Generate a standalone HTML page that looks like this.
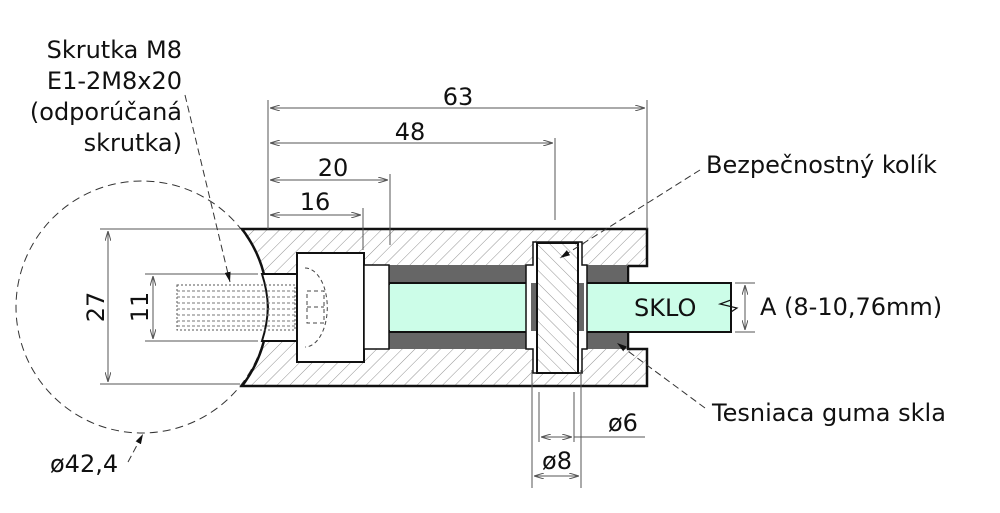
<!DOCTYPE html>
<html><head><meta charset="utf-8"><style>
body{margin:0;background:#fff}
svg{display:block}
text{font-family:"DejaVu Sans","Liberation Sans",sans-serif;font-size:24px;fill:#111}
</style></head><body>
<svg width="1000" height="513" viewBox="0 0 1000 513">
<defs>
<pattern id="h" width="9" height="9" patternUnits="userSpaceOnUse" patternTransform="rotate(45)">
<rect width="9" height="9" fill="#fff"/><line x1="0" y1="0" x2="0" y2="9" stroke="#777" stroke-width="0.8"/></pattern>
<pattern id="h2" width="9" height="9" patternUnits="userSpaceOnUse" patternTransform="rotate(-45)">
<rect width="9" height="9" fill="#fff"/><line x1="0" y1="0" x2="0" y2="9" stroke="#777" stroke-width="0.8"/></pattern>
<marker id="a" markerWidth="10" markerHeight="6" refX="10" refY="3" orient="auto"><path d="M0,0 L10,3 L0,6" fill="none" stroke="#555" stroke-width="1"/></marker>
<marker id="b" markerWidth="10" markerHeight="6" refX="10" refY="3" orient="auto"><path d="M0,0 L10,3 L0,6z" fill="#111"/></marker>
</defs>
<circle cx="142" cy="307" r="126" fill="none" stroke="#333" stroke-width="1" stroke-dasharray="8,5"/>
<path d="M242,229 L647,229 L647,266 L628,266 L628,349 L647,349 L647,386 L242,386 A126,126 0 0 0 268,307 A126,126 0 0 0 242,229 Z" fill="url(#h)" stroke="#111" stroke-width="2.5"/>
<rect x="389" y="265" width="239" height="84" fill="#666"/>
<rect x="389" y="283" width="342" height="49" fill="#ccfde8" stroke="#111" stroke-width="2"/>
<rect x="389" y="285" width="240" height="45" fill="#ccfde8"/>
<path d="M731,283 L731,300 L720,304 L737,308 L731,312 L731,332" fill="none" stroke="#111" stroke-width="1.2"/>
<path d="M628,266 L628,283 M628,332 L628,349" stroke="#111" stroke-width="2"/>
<path d="M262,274 L297,274 L297,341 L262,341 A126,126 0 0 0 268,307 A126,126 0 0 0 262,274Z" fill="#fff" stroke="#111" stroke-width="2"/>
<rect x="297" y="253" width="67" height="109" fill="#fff" stroke="#111" stroke-width="2"/>
<rect x="364" y="265" width="25" height="84" fill="#fff" stroke="#111" stroke-width="1.5"/>
<path d="M305,268 A22,39 0 0 1 305,347" fill="none" stroke="#444" stroke-dasharray="4,3"/>
<rect x="307" y="291" width="17" height="32" fill="none" stroke="#444" stroke-dasharray="4,3"/>
<line x1="307" y1="307" x2="324" y2="307" stroke="#444" stroke-dasharray="4,3"/>
<rect x="177" y="285" width="118" height="45" fill="none" stroke="#555" stroke-width="1" stroke-dasharray="2,2"/>
<g stroke="#777" stroke-width="1" stroke-dasharray="3,2">
<line x1="177" y1="291" x2="295" y2="291"/><line x1="177" y1="297" x2="295" y2="297"/><line x1="177" y1="303" x2="295" y2="303"/><line x1="177" y1="309" x2="295" y2="309"/><line x1="177" y1="315" x2="295" y2="315"/><line x1="177" y1="321" x2="295" y2="321"/><line x1="177" y1="326" x2="295" y2="326"/></g>
<path d="M526,265 L533,265 L533,242 L582,242 L582,265 L587,265 L587,349 L582,349 L582,373 L533,373 L533,349 L526,349Z" fill="#fff" stroke="#111" stroke-width="1.5"/>
<rect x="531" y="283" width="6" height="48" fill="#666"/><rect x="578" y="283" width="6" height="48" fill="#666"/>
<rect x="537" y="243" width="41" height="130" fill="url(#h2)" stroke="#111" stroke-width="2"/>
<g stroke="#555" stroke-width="1" fill="none">
<line x1="268" y1="100" x2="268" y2="229"/><line x1="647" y1="100" x2="647" y2="229"/>
<line x1="555" y1="138" x2="555" y2="220"/><line x1="390" y1="174" x2="390" y2="245"/><line x1="363" y1="208" x2="363" y2="250"/>
<line x1="270" y1="108" x2="645" y2="108" marker-end="url(#a)"/><line x1="645" y1="108" x2="270" y2="108" marker-end="url(#a)"/>
<line x1="270" y1="143" x2="553" y2="143" marker-end="url(#a)"/><line x1="553" y1="143" x2="270" y2="143" marker-end="url(#a)"/>
<line x1="270" y1="180" x2="388" y2="180" marker-end="url(#a)"/><line x1="388" y1="180" x2="270" y2="180" marker-end="url(#a)"/>
<line x1="270" y1="215" x2="361" y2="215" marker-end="url(#a)"/><line x1="361" y1="215" x2="270" y2="215" marker-end="url(#a)"/>
<line x1="100" y1="229" x2="240" y2="229"/><line x1="100" y1="384" x2="240" y2="384"/>
<line x1="145" y1="274" x2="258" y2="274"/><line x1="145" y1="341" x2="258" y2="341"/>
<line x1="108" y1="231" x2="108" y2="382" marker-end="url(#a)"/><line x1="108" y1="382" x2="108" y2="231" marker-end="url(#a)"/>
<line x1="153" y1="276" x2="153" y2="339" marker-end="url(#a)"/><line x1="153" y1="339" x2="153" y2="276" marker-end="url(#a)"/>
<line x1="539" y1="392" x2="539" y2="442"/><line x1="574" y1="392" x2="574" y2="442"/>
<line x1="532" y1="370" x2="532" y2="488"/><line x1="581" y1="370" x2="581" y2="488"/>
<line x1="541" y1="437" x2="572" y2="437" marker-end="url(#a)"/><line x1="572" y1="437" x2="541" y2="437" marker-end="url(#a)"/>
<line x1="574" y1="437" x2="645" y2="437"/>
<line x1="534" y1="476" x2="579" y2="476" marker-end="url(#a)"/><line x1="579" y1="476" x2="534" y2="476" marker-end="url(#a)"/>
<line x1="735" y1="283" x2="755" y2="283"/><line x1="735" y1="332" x2="755" y2="332"/>
<line x1="745" y1="285" x2="745" y2="330" marker-end="url(#a)"/><line x1="745" y1="330" x2="745" y2="285" marker-end="url(#a)"/>
</g>
<g stroke="#333" stroke-width="1" fill="none" stroke-dasharray="7,4">
<line x1="185" y1="95" x2="230" y2="282" marker-end="url(#b)"/>
<line x1="700" y1="170" x2="560" y2="258" marker-end="url(#b)"/>
<line x1="705" y1="408" x2="617" y2="343" marker-end="url(#b)"/>
<line x1="128" y1="462" x2="143" y2="434" marker-end="url(#b)"/>
</g>
<text x="458" y="105" text-anchor="middle">63</text>
<text x="410" y="140" text-anchor="middle">48</text>
<text x="333" y="176" text-anchor="middle">20</text>
<text x="315" y="210" text-anchor="middle">16</text>
<text transform="translate(104,307) rotate(-90)" text-anchor="middle">27</text>
<text transform="translate(148,307) rotate(-90)" text-anchor="middle">11</text>
<text x="182" y="58" text-anchor="end">Skrutka M8</text>
<text x="182" y="89" text-anchor="end">E1-2M8x20</text>
<text x="182" y="120" text-anchor="end">(odporúčaná</text>
<text x="182" y="151" text-anchor="end">skrutka)</text>
<text x="50" y="472">ø42,4</text>
<text x="706" y="173">Bezpečnostný kolík</text>
<text x="712" y="421">Tesniaca guma skla</text>
<text x="760" y="315">A (8-10,76mm)</text>
<text x="634" y="316">SKLO</text>
<text x="608" y="431">ø6</text>
<text x="557" y="469" text-anchor="middle">ø8</text>
</svg>
</body></html>
